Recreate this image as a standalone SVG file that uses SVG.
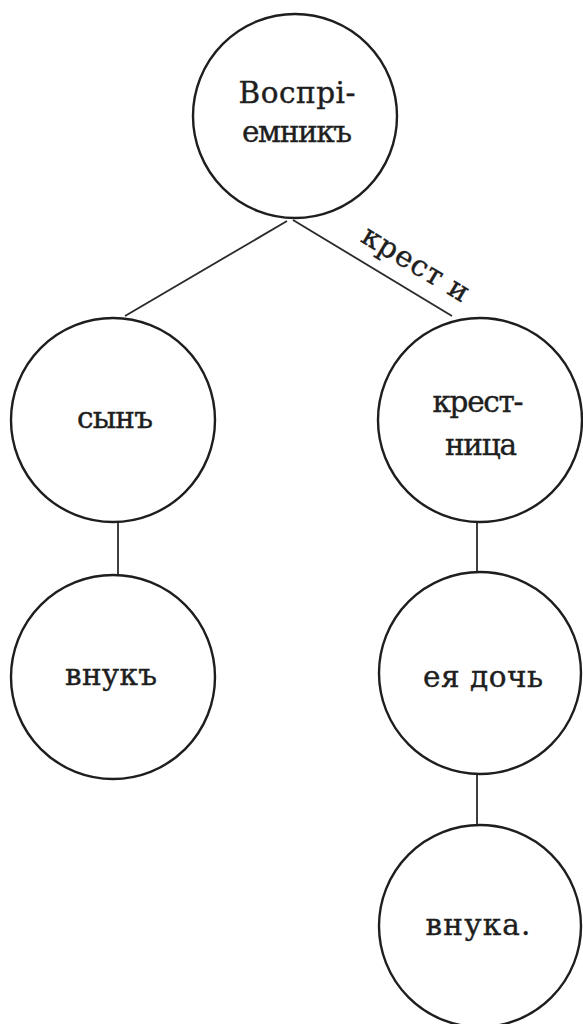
<svg xmlns="http://www.w3.org/2000/svg" width="583" height="1024" viewBox="0 0 583 1024">
  <style>
    .node circle { fill: none; stroke: #1e1e1e; stroke-width: 2.4; }
    .node text { font-family: "DejaVu Serif", "Liberation Serif", serif; font-size: 29.5px; fill: #1e1e1e; stroke: #1e1e1e; stroke-width: 0.4; text-anchor: middle; }
    .conn line { stroke: #2a2a2a; stroke-width: 1.8; }
    .label { font-family: "DejaVu Serif", "Liberation Serif", serif; font-size: 29px; fill: #1e1e1e; stroke: #1e1e1e; stroke-width: 0.4; text-anchor: middle; }
  </style>
  <rect width="583" height="1024" fill="#ffffff"/>
  <g id="connectors" class="conn">
    <line x1="287" y1="221" x2="125" y2="316"/>
    <line x1="293" y1="220" x2="452" y2="316"/>
    <line x1="118" y1="522" x2="118" y2="575"/>
    <line x1="477" y1="521" x2="477" y2="573"/>
    <line x1="477" y1="774" x2="477" y2="825"/>
    <text class="label" x="411" y="272" transform="rotate(31 411 272)" textLength="120" lengthAdjust="spacing">крест и</text>
  </g>
  <g id="vospriemnik" class="node">
    <circle cx="295" cy="116" r="102"/>
    <text x="297" y="103" textLength="117" lengthAdjust="spacing">Воспрі-</text>
    <text x="297" y="142" textLength="110" lengthAdjust="spacing">емникъ</text>
  </g>
  <g id="syn" class="node">
    <circle cx="113" cy="420" r="102"/>
    <text x="115" y="428" textLength="76" lengthAdjust="spacing">сынъ</text>
  </g>
  <g id="krestnitsa" class="node">
    <circle cx="480" cy="420" r="102"/>
    <text x="478" y="412" textLength="91" lengthAdjust="spacing">крест-</text>
    <text x="481" y="455" textLength="72" lengthAdjust="spacing">ница</text>
  </g>
  <g id="vnuk" class="node">
    <circle cx="113" cy="677" r="102"/>
    <text x="111" y="685" textLength="92" lengthAdjust="spacing">внукъ</text>
  </g>
  <g id="eya-doch" class="node">
    <circle cx="480" cy="673" r="101"/>
    <text x="483" y="687" textLength="120" lengthAdjust="spacing">ея дочь</text>
  </g>
  <g id="vnuka" class="node">
    <circle cx="480" cy="926" r="101"/>
    <text x="478" y="935" textLength="105" lengthAdjust="spacing">внука.</text>
  </g>
</svg>
